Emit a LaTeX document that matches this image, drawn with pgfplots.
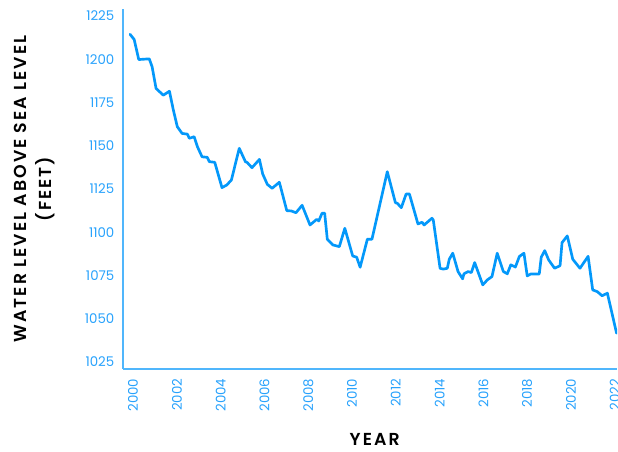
\documentclass[border=0pt]{standalone}
\usepackage{fontspec}
\setmainfont{Poppins}
\newfontfamily\labelfont{Poppins SemiBold}
\usepackage{pgfplots}
\pgfplotsset{compat=1.18}
\definecolor{lineblue}{RGB}{3,152,250}
\definecolor{axisblue}{RGB}{80,182,252}
\definecolor{tickblue}{RGB}{40,162,252}
\begin{document}
\begin{tikzpicture}
\begin{axis}[
  scale only axis,
  width=370.5pt, height=270pt,
  at={(0,0)}, anchor=south west,
  xmin=1999.54, xmax=2022.1,
  ymin=1021, ymax=1229,
  axis x line*=bottom, axis y line*=left,
  axis line style={draw=axisblue, line width=1.1pt, -},
  major tick length=0pt,
  xtick={2000,2002,...,2022},
  ytick={1025,1050,...,1225},
  /pgf/number format/1000 sep={},
  /pgf/number format/assume math mode=true,
  tick label style={font=\fontsize{10}{12}\selectfont, text=tickblue},
  xticklabel style={rotate=90, anchor=east, xshift=-3.75pt},
  yticklabel style={anchor=east, xshift=-3pt},
  every axis y label/.style={at={(axis description cs:0,0.5)}, xshift=-66.5pt, rotate=90, anchor=center, align=center},
  every axis x label/.style={at={(axis description cs:0.5,0)}, yshift=-52.5pt, xshift=3.5pt, anchor=center},
  label style={font=\labelfont\fontsize{13}{19}\selectfont\addfontfeatures{LetterSpace=12}, text=black},
  xlabel={YEAR},
  ylabel={WATER LEVEL ABOVE SEA LEVEL\\(FEET)},
]
\addplot[lineblue, line width=2pt, line join=round, line cap=round] coordinates {
(1999.86,1214.4) (2000.05,1211.4) (2000.26,1199.8) (2000.74,1200.2) (2000.87,1195.6)
(2001.05,1183.1) (2001.38,1179.2) (2001.66,1181.5) (2001.84,1170.6) (2002.02,1161.0)
(2002.24,1157.1) (2002.48,1156.7) (2002.57,1154.3) (2002.79,1155.2) (2002.94,1149.4)
(2003.15,1143.6) (2003.39,1143.3) (2003.48,1140.8) (2003.73,1140.4) (2004.06,1125.8)
(2004.28,1127.3) (2004.49,1130.2) (2004.85,1148.5) (2005.13,1140.8) (2005.22,1140.2)
(2005.43,1137.3) (2005.77,1142.1) (2005.92,1133.7) (2006.13,1127.7) (2006.35,1125.4)
(2006.68,1128.9) (2007.02,1112.5) (2007.23,1112.3) (2007.44,1111.3) (2007.72,1115.6)
(2008.08,1104.2) (2008.39,1107.5) (2008.48,1106.5) (2008.63,1111.0) (2008.75,1111.0)
(2008.87,1096.0) (2009.12,1092.7) (2009.42,1091.7) (2009.67,1102.3) (2010.03,1086.3)
(2010.21,1085.6) (2010.37,1079.8) (2010.70,1096.0) (2010.91,1096.0) (2011.61,1135.0)
(2011.98,1117.1) (2012.07,1116.7) (2012.25,1114.2) (2012.47,1122.1) (2012.62,1122.1)
(2013.01,1104.8) (2013.20,1105.8) (2013.29,1104.2) (2013.65,1108.1) (2013.71,1107.1)
(2014.02,1079.2) (2014.17,1078.7) (2014.35,1079.2) (2014.44,1084.4) (2014.60,1087.9)
(2014.84,1077.3) (2015.05,1073.1) (2015.11,1076.0) (2015.30,1077.3) (2015.45,1076.7)
(2015.60,1082.5) (2015.97,1069.6) (2016.18,1072.5) (2016.39,1074.4) (2016.63,1087.9)
(2016.91,1077.3) (2017.09,1076.0) (2017.25,1081.2) (2017.46,1079.9) (2017.64,1086.0)
(2017.85,1087.9) (2018.00,1074.8) (2018.16,1075.9) (2018.55,1075.9) (2018.64,1085.6)
(2018.80,1089.4) (2018.98,1084.0) (2019.25,1079.2) (2019.50,1080.7) (2019.59,1094.0)
(2019.83,1097.9) (2020.08,1084.4) (2020.41,1079.2) (2020.78,1086.1) (2020.99,1066.7)
(2021.20,1065.7) (2021.42,1063.3) (2021.66,1064.8) (2022.08,1041.7)
};
\end{axis}
\pgfresetboundingbox
\path[use as bounding box] (-92.25pt,-62.25pt) rectangle (371.25pt,276.75pt);
\end{tikzpicture}
\end{document}
